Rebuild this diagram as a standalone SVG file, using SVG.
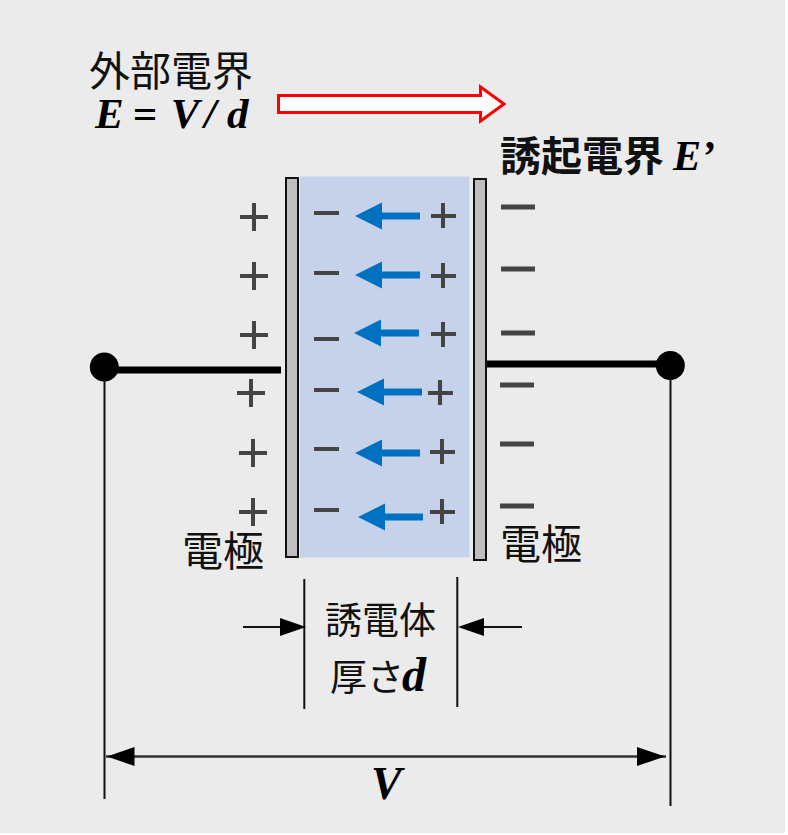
<svg xmlns="http://www.w3.org/2000/svg" width="788" height="835" viewBox="0 0 788 835">
<defs>
<style>
.jp{font-family:"Noto Sans CJK JP","Noto Sans CJK SC",sans-serif;fill:#111;font-size:41px}
.it{font-family:"Liberation Serif",serif;font-style:italic;font-weight:700;fill:#000}
.ch{stroke:#444;stroke-width:4;fill:none}
.mn{stroke:#444;stroke-width:5;fill:none}
.thin{stroke:#111;stroke-width:2;fill:none}
.wire{stroke:#000;stroke-width:7;fill:none}
.plate{fill:#bfbfbf;stroke:#111;stroke-width:2}
.ar{fill:#0070c0}
</style>
</defs>
<rect width="788" height="835" fill="#fff"/>
<rect x="0" y="0" width="785" height="833" fill="#ebebeb"/>
<g id="dielectric"><rect x="300" y="176.500" width="169.500" height="381" fill="#c6d2ea"/></g>
<g id="electrode-left"><rect x="286" y="178" width="12" height="379" class="plate"/></g>
<g id="electrode-right"><rect x="474" y="179" width="12" height="381" class="plate"/></g>
<g id="charges-left">
<path class="ch" d="M240 217h28M254 203v28M240 276h28M254 262v28M240 335h28M254 321v28M237 393h28M251 379v28M239 453h28M253 439v28M239 512h28M253 498v28"/>
</g>
<g id="charges-inner-neg">
<path class="ch" d="M314 213h25M314 273h25M314 339h25M314 390h25M314 449h25M314 510h25"/>
</g>
<g id="charges-inner-pos">
<path class="ch" d="M431 216h25M443 203v25M431 276h25M443 263v25M431 334h25M443 322v25M428 393h25M440 380v25M430 452h25M442 439v25M430 512h25M442 499v25"/>
</g>
<g id="charges-right">
<path class="mn" d="M501 207h34M501 269h34M501 333h34M500 385h34M500 444h34M500 506h34"/>
</g>
<g id="field-arrows">
<path class="ar" d="M355 216l27-13.500v10h38v7h-38v10z"/>
<path class="ar" d="M355 275l27-13.500v10h38v7h-38v10z"/>
<path class="ar" d="M354 333l27-13.500v10h38v7h-38v10z"/>
<path class="ar" d="M357 392l27-13.500v10h38v7h-38v10z"/>
<path class="ar" d="M355 453l27-13.500v10h38v7h-38v10z"/>
<path class="ar" d="M358 517l27-13.500v10h38v7h-38v10z"/>
</g>
<g id="external-field-arrow">
<path d="M278.500 95.500H480.500V87L504 104 480.500 121V112.500H278.500z" fill="#fff" stroke="#f00" stroke-width="3"/>
</g>
<g id="connectors">
<path class="wire" d="M104 370H281M487 364H670"/>
<circle cx="104.300" cy="367" r="14.500" fill="#000"/>
<circle cx="670.300" cy="365.500" r="14.500" fill="#000"/>
<path class="thin" d="M104.500 380V799M670.500 378V806M304.300 579V709M457.300 577V707M243 627H280M484 627H522"/>
<path d="M106 756.500H666" stroke="#333" stroke-width="2.500"/>
<path d="M107 756.500L134.500 747V766zM665 756.500L637 747V766z" fill="#000"/>
<path d="M280 618L306 627 280 636zM484 618L458 627 484 636z" fill="#000"/>
</g>
<g id="labels">
<text x="89" y="86" class="jp">外部電界</text>
<text x="95" y="128" class="it" font-size="43">E<tspan dx="-2"> </tspan>=<tspan dx="3"> </tspan>V<tspan dx="-5"> </tspan>/ d</text>
<text x="500" y="171" class="jp" style="font-weight:700">誘起電界</text>
<text x="673" y="170" class="it" font-size="42">E’</text>
<text x="182" y="566" class="jp">電極</text>
<text x="500" y="559" class="jp">電極</text>
<text x="325" y="634" class="jp" style="font-size:37px">誘電体</text>
<text x="330" y="691" class="jp" style="font-size:37px">厚さ</text>
<text x="402" y="691" class="it" font-size="48">d</text>
<text x="371" y="799" class="it" font-size="46">V</text>
</g>
</svg>
